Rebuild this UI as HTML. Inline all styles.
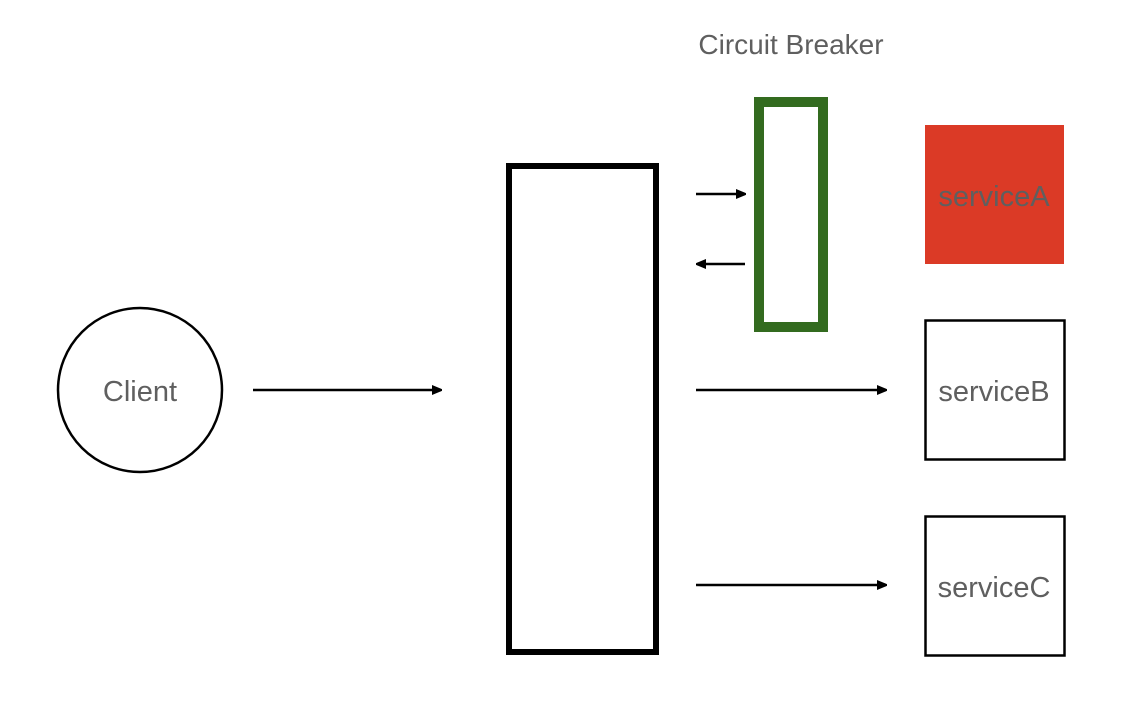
<!DOCTYPE html>
<html><head><style>
html,body{margin:0;padding:0;background:#fff;}
svg{display:block;}
text{font-family:"Liberation Sans",Arial,sans-serif;fill:#5f5f5f;}
</style></head><body>
<svg width="1144" height="706" viewBox="0 0 1144 706" xmlns="http://www.w3.org/2000/svg">
<defs>
<marker id="a" markerWidth="10" markerHeight="10" refX="9" refY="5" orient="auto" markerUnits="userSpaceOnUse">
<path d="M0,0 L12,5 L0,10 Z" fill="#000"/>
</marker>
</defs>
<text x="791" y="54" font-size="28" text-anchor="middle">Circuit Breaker</text>
<circle cx="140" cy="390" r="82" fill="none" stroke="#000" stroke-width="2.5"/>
<text x="140" y="401" font-size="29" text-anchor="middle">Client</text>
<line x1="253" y1="390" x2="441" y2="390" stroke="#000" stroke-width="2.5" marker-end="url(#a)"/>
<rect x="509" y="166" width="147" height="486" fill="none" stroke="#000" stroke-width="6"/>
<rect x="759" y="102" width="64" height="225" fill="none" stroke="#336b1f" stroke-width="10"/>
<line x1="696" y1="194" x2="745" y2="194" stroke="#000" stroke-width="2.5" marker-end="url(#a)"/>
<line x1="745" y1="264" x2="697" y2="264" stroke="#000" stroke-width="2.5" marker-end="url(#a)"/>
<rect x="925" y="125" width="139" height="139" fill="#db3a26"/>
<text x="994" y="206" font-size="29" text-anchor="middle">serviceA</text>
<rect x="925.5" y="320.5" width="139" height="139" fill="none" stroke="#000" stroke-width="2.5"/>
<text x="994" y="401" font-size="29" text-anchor="middle">serviceB</text>
<rect x="925.5" y="516.5" width="139" height="139" fill="none" stroke="#000" stroke-width="2.5"/>
<text x="994" y="597" font-size="29" text-anchor="middle">serviceC</text>
<line x1="696" y1="390" x2="886" y2="390" stroke="#000" stroke-width="2.5" marker-end="url(#a)"/>
<line x1="696" y1="585" x2="886" y2="585" stroke="#000" stroke-width="2.5" marker-end="url(#a)"/>
</svg>
</body></html>
